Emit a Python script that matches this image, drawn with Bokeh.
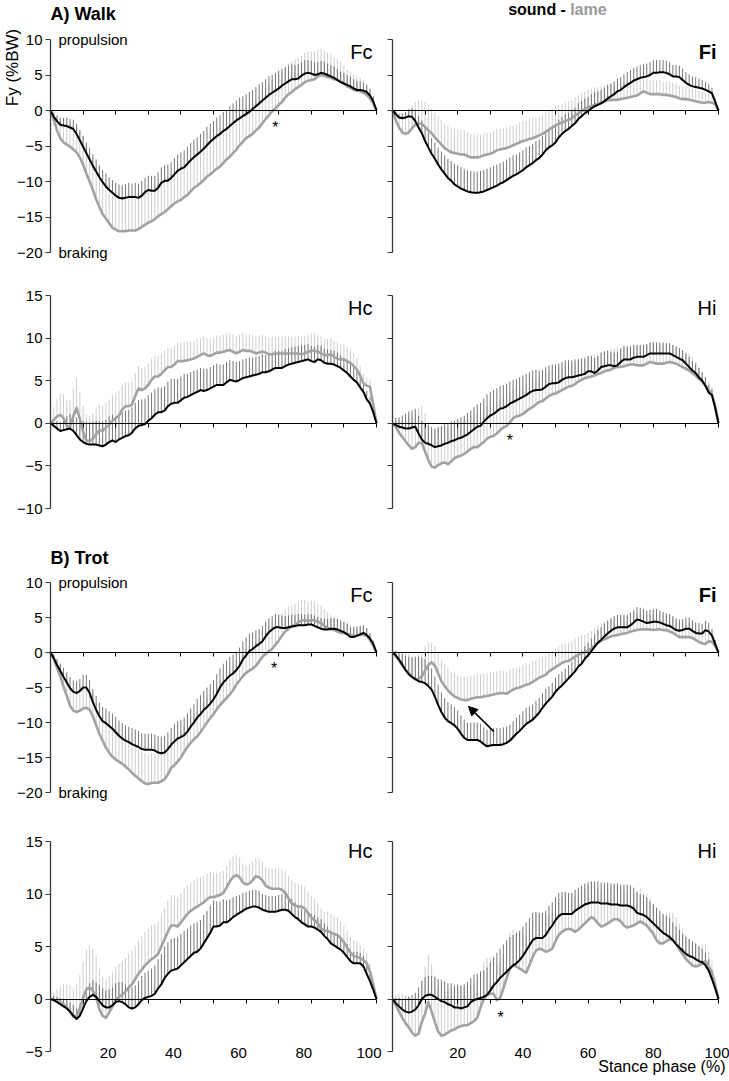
from math import pi
from bokeh.plotting import figure
from bokeh.models import Range1d, FixedTicker, Label, Arrow, NormalHead, LinearAxis
from bokeh.layouts import column, row
from bokeh.embed import file_html
from bokeh.resources import INLINE

# ---------------- data ----------------
stance = list(range(101))
x_tick_marks = [10, 20, 30, 40, 50, 60, 70, 80, 90, 100]
x_tick_labels = [20, 40, 60, 80, 100]
yticks_fore = [-20, -15, -10, -5, 0, 5, 10]
yticks_hind_walk = [-10, -5, 0, 5, 10, 15]
yticks_hind_trot = [-5, 0, 5, 10, 15]

walk_fc_sound = [0, -0.9, -1.5, -2.0, -2.1, -2.2, -2.4, -2.6, -3.3, -4.2,
 -5.1, -6.0, -6.9, -7.8, -8.6, -9.4, -10.1, -10.7, -11.2, -11.6,
 -12.0, -12.3, -12.4, -12.3, -12.2, -12.2, -12.2, -12.3, -12.0, -11.5,
 -11.2, -11.3, -11.3, -10.9, -10.2, -9.9, -9.9, -9.5, -9.0, -8.5,
 -8.2, -8.0, -7.5, -7.0, -6.6, -6.2, -5.8, -5.4, -4.9, -4.4,
 -4.0, -3.6, -3.3, -2.9, -2.6, -2.2, -1.8, -1.4, -1.1, -0.8,
 -0.5, -0.2, 0.2, 0.6, 1.0, 1.4, 1.8, 2.2, 2.5, 2.8,
 3.1, 3.5, 3.8, 4.1, 4.4, 4.4, 4.5, 4.9, 5.2, 5.3,
 5.2, 5.0, 5.1, 5.3, 5.2, 5.0, 4.8, 4.6, 4.3, 4.0,
 3.8, 3.6, 3.4, 3.1, 2.9, 2.9, 2.8, 2.6, 2.1, 1.3, 0]
walk_fc_sound_sd = [0.4, 0.6, 0.8, 1.0, 1.1, 1.2, 1.2, 1.3, 1.4, 1.4,
 1.5, 1.5, 1.6, 1.6, 1.7, 1.7, 1.7, 1.8, 1.8, 1.8,
 1.8, 1.9, 1.9, 1.9, 2.0, 1.9, 2.0, 2.0, 2.1, 2.0,
 2.0, 2.1, 2.1, 2.2, 2.2, 2.2, 2.3, 2.2, 2.3, 2.3,
 2.3, 2.4, 2.4, 2.4, 2.5, 2.4, 2.5, 2.5, 2.6, 2.5,
 2.5, 2.6, 2.6, 2.7, 2.7, 2.8, 2.8, 2.8, 2.9, 2.8,
 2.8, 2.8, 2.7, 2.7, 2.7, 2.6, 2.6, 2.6, 2.5, 2.5,
 2.5, 2.4, 2.3, 2.2, 2.1, 2.0, 2.0, 1.9, 1.9, 1.8,
 1.8, 1.8, 1.7, 1.7, 1.7, 1.6, 1.6, 1.6, 1.5, 1.5,
 1.5, 1.4, 1.4, 1.3, 1.3, 1.2, 1.1, 1.0, 0.9, 0.7, 0.5]
walk_fc_lame = [0, -1.3, -2.8, -3.9, -4.5, -4.8, -5.1, -5.5, -5.9, -6.6,
 -7.6, -8.9, -10.0, -11.2, -12.5, -13.6, -14.6, -15.2, -15.9, -16.5,
 -16.8, -17.0, -17.0, -17.0, -16.9, -16.9, -16.9, -16.7, -16.4, -16.1,
 -15.8, -15.6, -15.3, -14.9, -14.6, -14.3, -13.9, -13.5, -13.1, -12.8,
 -12.6, -12.2, -11.9, -11.4, -10.9, -10.6, -10.2, -9.8, -9.3, -9.0,
 -8.6, -8.2, -7.9, -7.4, -6.9, -6.5, -6.0, -5.5, -4.9, -4.4,
 -3.9, -3.6, -3.3, -2.8, -2.4, -1.8, -1.2, -0.7, -0.1, 0.3,
 0.8, 1.2, 1.8, 2.3, 2.6, 3.0, 3.3, 3.6, 4.0, 4.2,
 4.3, 4.4, 4.8, 5.0, 4.9, 4.7, 4.6, 4.4, 4.3, 4.1,
 3.8, 3.4, 3.2, 2.9, 2.8, 2.7, 2.5, 2.2, 1.7, 1.0, 0]
walk_fc_lame_sd = [0.4, 1.2, 2.0, 2.4, 2.7, 3.0, 3.2, 3.4, 3.6, 3.8,
 4.0, 4.0, 4.1, 4.2, 4.2, 4.3, 4.3, 4.4, 4.4, 4.5,
 4.5, 4.5, 4.6, 4.5, 4.5, 4.6, 4.5, 4.5, 4.5, 4.6,
 4.5, 4.5, 4.5, 4.6, 4.5, 4.5, 4.5, 4.5, 4.6, 4.5,
 4.5, 4.5, 4.5, 4.5, 4.6, 4.5, 4.5, 4.5, 4.5, 4.5,
 4.5, 4.5, 4.6, 4.5, 4.5, 4.5, 4.5, 4.5, 4.5, 4.5,
 4.5, 4.5, 4.4, 4.4, 4.4, 4.4, 4.4, 4.3, 4.3, 4.3,
 4.3, 4.3, 4.3, 4.3, 4.2, 4.2, 4.2, 4.1, 4.1, 4.1,
 4.0, 3.9, 3.8, 3.7, 3.6, 3.5, 3.3, 3.1, 2.9, 2.7,
 2.5, 2.4, 2.3, 2.2, 2.1, 2.0, 1.8, 1.6, 1.4, 1.0, 0.2]

walk_fi_sound = [0, -0.5, -1.0, -1.1, -1.0, -0.8, -0.9, -1.5, -2.4, -3.2,
 -4.3, -5.2, -6.1, -6.8, -7.6, -8.3, -8.9, -9.5, -9.9, -10.4,
 -10.7, -11.0, -11.2, -11.4, -11.5, -11.6, -11.6, -11.5, -11.4, -11.2,
 -11.0, -10.8, -10.6, -10.3, -10.1, -9.8, -9.5, -9.2, -9.0, -8.7,
 -8.4, -8.0, -7.7, -7.4, -7.0, -6.7, -6.2, -5.6, -5.2, -4.9,
 -4.5, -3.8, -3.3, -2.9, -2.6, -2.2, -1.8, -1.2, -0.8, -0.4,
 -0.1, 0.3, 0.6, 0.8, 1.0, 1.3, 1.7, 2.0, 2.3, 2.7,
 2.9, 3.3, 3.6, 3.9, 4.2, 4.4, 4.6, 4.7, 4.8, 5.0,
 5.3, 5.3, 5.4, 5.4, 5.3, 5.1, 4.8, 4.8, 4.7, 4.3,
 3.9, 3.6, 3.4, 3.3, 3.2, 3.1, 2.9, 2.7, 2.4, 1.2, 0]
walk_fi_sound_sd = [0.3, 0.4, 0.5, 0.7, 0.8, 1.0, 1.2, 1.4, 1.6, 1.8,
 2.0, 2.1, 2.2, 2.3, 2.4, 2.5, 2.6, 2.7, 2.8, 2.9,
 3.0, 3.0, 3.0, 3.0, 3.0, 3.0, 3.0, 3.0, 3.0, 3.0,
 3.0, 3.0, 3.0, 2.9, 2.9, 2.9, 2.9, 2.9, 2.8, 2.8,
 2.8, 2.8, 2.7, 2.7, 2.7, 2.6, 2.6, 2.6, 2.5, 2.5,
 2.5, 2.5, 2.4, 2.4, 2.3, 2.3, 2.2, 2.2, 2.1, 2.1,
 2.0, 2.0, 2.0, 1.9, 1.9, 1.9, 1.9, 1.8, 1.8, 1.8,
 1.8, 1.8, 1.8, 1.8, 1.8, 1.8, 1.8, 1.8, 1.8, 1.8,
 1.8, 1.8, 1.7, 1.7, 1.7, 1.7, 1.6, 1.6, 1.6, 1.6,
 1.5, 1.5, 1.4, 1.4, 1.3, 1.2, 1.1, 1.0, 0.8, 0.5, 0.2]
walk_fi_lame = [0, -1.4, -2.4, -3.1, -3.3, -3.1, -2.5, -2.0, -1.8, -1.9,
 -2.3, -2.8, -3.2, -3.8, -4.3, -4.8, -5.3, -5.6, -5.9, -6.0,
 -6.1, -6.2, -6.2, -6.4, -6.6, -6.6, -6.6, -6.5, -6.3, -6.2,
 -6.1, -5.9, -5.6, -5.5, -5.4, -5.3, -5.1, -4.9, -4.7, -4.5,
 -4.3, -4.2, -4.0, -3.9, -3.7, -3.5, -3.3, -3.0, -2.7, -2.4,
 -2.1, -1.9, -1.7, -1.5, -1.3, -1.1, -0.7, -0.4, -0.1, 0.2,
 0.5, 0.6, 0.8, 0.9, 1.1, 1.3, 1.4, 1.5, 1.5, 1.5,
 1.6, 1.7, 1.8, 1.9, 2.0, 2.1, 2.4, 2.7, 2.5, 2.3,
 2.3, 2.3, 2.3, 2.2, 2.2, 2.1, 2.0, 1.9, 1.7, 1.6,
 1.6, 1.5, 1.4, 1.3, 1.2, 1.1, 1.1, 1.2, 1.1, 0.9, 0]
walk_fi_lame_sd = [0.3, 1.2, 2.0, 2.5, 2.8, 3.0, 3.1, 3.2, 3.3, 3.4,
 3.5, 3.5, 3.5, 3.5, 3.5, 3.5, 3.5, 3.5, 3.5, 3.5,
 3.5, 3.4, 3.4, 3.3, 3.3, 3.2, 3.2, 3.1, 3.1, 3.0,
 3.0, 3.0, 3.0, 2.9, 2.9, 2.9, 2.9, 2.8, 2.8, 2.8,
 2.8, 2.8, 2.8, 2.8, 2.7, 2.7, 2.7, 2.7, 2.7, 2.7,
 2.7, 2.7, 2.6, 2.6, 2.6, 2.6, 2.6, 2.5, 2.5, 2.5,
 2.5, 2.5, 2.4, 2.4, 2.4, 2.3, 2.3, 2.3, 2.2, 2.2,
 2.2, 2.2, 2.1, 2.1, 2.1, 2.1, 2.0, 2.0, 2.0, 2.0,
 2.0, 2.0, 2.0, 1.9, 1.9, 1.9, 1.9, 1.9, 1.8, 1.8,
 1.8, 1.8, 1.7, 1.7, 1.6, 1.5, 1.4, 1.2, 1.0, 0.6, 0.1]

walk_hc_sound = [0, -0.3, -0.6, -0.9, -0.8, -0.7, -0.6, -0.9, -1.4, -1.9,
 -2.2, -2.4, -2.5, -2.5, -2.5, -2.6, -2.7, -2.5, -2.2, -2.0,
 -2.2, -1.9, -1.7, -1.5, -1.4, -1.1, -0.6, -0.3, -0.2, -0.1,
 0.3, 0.6, 1.0, 1.3, 1.3, 1.5, 2.0, 2.3, 2.4, 2.4,
 2.7, 3.0, 3.1, 3.3, 3.5, 3.7, 3.9, 3.8, 3.9, 4.1,
 4.3, 4.5, 4.5, 4.5, 4.8, 5.1, 5.0, 4.9, 5.1, 5.3,
 5.4, 5.5, 5.6, 5.7, 5.8, 6.0, 6.0, 6.1, 6.3, 6.5,
 6.5, 6.5, 6.7, 6.9, 7.0, 7.1, 7.2, 7.3, 7.4, 7.5,
 7.3, 7.2, 7.5, 7.4, 7.1, 7.0, 7.0, 6.9, 6.7, 6.5,
 6.2, 5.9, 5.5, 5.1, 4.8, 4.2, 3.7, 2.8, 2.3, 1.3, 0]
walk_hc_sound_sd = [0.5, 0.7, 0.9, 1.1, 1.3, 1.5, 1.7, 1.9, 2.1, 2.3,
 2.5, 2.6, 2.6, 2.7, 2.8, 2.8, 2.9, 2.9, 3.0, 3.0,
 3.0, 3.0, 3.0, 3.0, 3.0, 3.0, 3.0, 3.0, 3.0, 3.0,
 3.0, 3.0, 3.0, 2.9, 2.9, 2.9, 2.9, 2.9, 2.8, 2.8,
 2.8, 2.8, 2.7, 2.7, 2.7, 2.6, 2.6, 2.6, 2.5, 2.5,
 2.5, 2.5, 2.4, 2.4, 2.4, 2.3, 2.3, 2.3, 2.2, 2.2,
 2.2, 2.2, 2.1, 2.1, 2.1, 2.1, 2.0, 2.0, 2.0, 2.0,
 2.0, 2.0, 2.0, 1.9, 1.9, 1.9, 1.9, 1.9, 1.8, 1.8,
 1.8, 1.8, 1.7, 1.7, 1.7, 1.7, 1.6, 1.6, 1.6, 1.5,
 1.5, 1.5, 1.4, 1.4, 1.3, 1.2, 1.1, 1.0, 0.8, 0.5, 0.3]
walk_hc_lame = [0, 0.4, 0.8, 1.0, 0.6, -0.3, -0.4, 0.8, 1.8, 0.5,
 -1.0, -2.0, -2.1, -1.8, -1.3, -0.8, -0.9, -0.5, -0.2, 0.3,
 0.6, 0.9, 1.6, 2.0, 2.0, 2.2, 3.2, 4.1, 3.9, 4.1,
 4.5, 5.1, 5.5, 5.5, 5.8, 6.2, 6.6, 6.6, 6.9, 7.3,
 7.3, 7.3, 7.4, 7.5, 7.6, 7.8, 8.0, 8.2, 8.0, 7.9,
 8.1, 8.3, 8.3, 8.4, 8.5, 8.6, 8.4, 8.2, 8.4, 8.6,
 8.5, 8.5, 8.4, 8.2, 8.3, 8.4, 8.3, 8.1, 8.1, 8.2,
 8.2, 8.2, 8.2, 8.2, 8.2, 8.2, 8.2, 8.1, 8.2, 8.4,
 8.5, 8.5, 8.4, 8.2, 8.0, 8.0, 8.1, 7.8, 7.6, 7.5,
 7.5, 7.3, 7.1, 6.7, 6.3, 5.6, 4.7, 4.4, 4.3, 2.2, 0]
walk_hc_lame_sd = [0.5, 1.5, 2.0, 2.5, 2.8, 3.0, 3.2, 3.4, 3.5, 3.2,
 3.0, 3.0, 3.0, 3.0, 3.0, 3.0, 3.0, 3.0, 3.0, 3.0,
 3.0, 2.9, 2.9, 2.8, 2.8, 2.7, 2.7, 2.6, 2.6, 2.5,
 2.5, 2.5, 2.4, 2.4, 2.4, 2.3, 2.3, 2.3, 2.2, 2.2,
 2.2, 2.2, 2.1, 2.1, 2.1, 2.1, 2.0, 2.0, 2.0, 2.0,
 2.0, 2.0, 2.0, 2.0, 2.0, 2.0, 2.0, 2.0, 2.0, 2.0,
 2.0, 2.0, 2.0, 2.0, 2.0, 2.0, 2.0, 2.0, 2.0, 2.0,
 2.0, 2.0, 2.0, 2.0, 2.0, 2.0, 2.0, 2.0, 2.0, 2.0,
 2.0, 2.0, 2.0, 2.0, 1.9, 1.9, 1.9, 1.9, 1.9, 1.8,
 1.8, 1.7, 1.6, 1.5, 1.4, 1.2, 1.1, 1.0, 0.8, 0.5, 0.3]

walk_hi_sound = [0, -0.2, -0.4, -0.5, -0.6, -0.6, -0.5, -0.4, -1.2, -1.9,
 -2.3, -2.4, -2.6, -2.8, -2.7, -2.6, -2.4, -2.3, -2.1, -2.0,
 -1.8, -1.7, -1.5, -1.3, -1.0, -0.7, -0.4, -0.3, 0.2, 0.6,
 0.9, 1.1, 1.4, 1.7, 1.8, 2.0, 2.3, 2.5, 2.7, 2.9,
 3.1, 3.3, 3.6, 3.8, 3.9, 3.9, 4.0, 4.3, 4.6, 4.7,
 4.7, 4.8, 5.1, 5.3, 5.4, 5.4, 5.5, 5.6, 5.7, 5.8,
 6.1, 6.1, 5.9, 6.2, 6.6, 6.7, 6.8, 6.8, 6.7, 6.8,
 7.2, 7.5, 7.5, 7.5, 7.7, 7.8, 7.8, 7.8, 8.0, 8.2,
 8.2, 8.2, 8.2, 8.2, 8.2, 8.2, 8.0, 7.8, 7.6, 7.4,
 7.0, 6.6, 6.2, 5.9, 5.4, 5.0, 4.4, 3.6, 3.3, 1.8, 0]
walk_hi_sound_sd = [0.5, 0.8, 1.1, 1.4, 1.7, 2.0, 2.0, 2.1, 2.1, 2.2,
 2.2, 2.2, 2.2, 2.2, 2.3, 2.3, 2.3, 2.3, 2.3, 2.3,
 2.3, 2.4, 2.4, 2.5, 2.5, 2.6, 2.6, 2.7, 2.7, 2.8,
 2.8, 2.8, 2.7, 2.7, 2.7, 2.6, 2.6, 2.6, 2.5, 2.5,
 2.5, 2.5, 2.4, 2.4, 2.4, 2.3, 2.3, 2.3, 2.2, 2.2,
 2.2, 2.2, 2.1, 2.1, 2.0, 2.0, 2.0, 1.9, 1.9, 1.8,
 1.8, 1.8, 1.8, 1.7, 1.7, 1.7, 1.7, 1.6, 1.6, 1.6,
 1.6, 1.6, 1.5, 1.5, 1.5, 1.4, 1.4, 1.4, 1.3, 1.3,
 1.3, 1.3, 1.3, 1.3, 1.2, 1.2, 1.2, 1.2, 1.2, 1.2,
 1.2, 1.2, 1.1, 1.1, 1.1, 1.0, 1.0, 0.9, 0.7, 0.5, 0.2]
walk_hi_lame = [0, -0.4, -1.1, -1.6, -2.1, -2.6, -3.0, -2.8, -2.3, -2.3,
 -3.3, -4.3, -5.1, -5.2, -4.9, -4.7, -4.6, -4.8, -4.5, -4.1,
 -3.9, -3.8, -3.6, -3.3, -3.0, -2.8, -2.8, -2.5, -2.2, -1.8,
 -1.6, -1.5, -1.2, -0.8, -0.5, -0.3, 0.1, 0.6, 0.8, 0.9,
 1.1, 1.4, 1.7, 1.9, 2.2, 2.5, 2.6, 2.9, 3.2, 3.4,
 3.5, 3.7, 3.9, 4.1, 4.3, 4.4, 4.6, 4.9, 5.1, 5.3,
 5.4, 5.5, 5.6, 5.8, 5.9, 6.1, 6.2, 6.3, 6.5, 6.6,
 6.6, 6.7, 6.8, 6.9, 6.9, 6.8, 6.8, 6.8, 7.0, 7.2,
 7.1, 7.0, 7.0, 7.0, 7.1, 7.2, 7.1, 7.0, 6.8, 6.6,
 6.4, 6.2, 5.9, 5.6, 5.2, 4.9, 4.4, 3.9, 3.4, 2.0, 0]
walk_hi_lame_sd = [0.5, 1.0, 1.5, 2.0, 2.8, 3.5, 3.7, 3.9, 4.1, 4.3,
 4.5, 4.5, 4.4, 4.4, 4.3, 4.2, 4.2, 4.1, 4.1, 4.0,
 4.0, 4.0, 4.0, 4.0, 3.9, 3.9, 3.9, 3.9, 3.8, 3.8,
 3.8, 3.7, 3.7, 3.6, 3.5, 3.5, 3.4, 3.4, 3.3, 3.3,
 3.2, 3.2, 3.1, 3.1, 3.0, 3.0, 3.0, 2.9, 2.9, 2.8,
 2.8, 2.8, 2.7, 2.7, 2.7, 2.6, 2.6, 2.6, 2.5, 2.5,
 2.5, 2.5, 2.5, 2.4, 2.4, 2.4, 2.4, 2.4, 2.3, 2.3,
 2.3, 2.3, 2.3, 2.3, 2.3, 2.3, 2.3, 2.3, 2.3, 2.3,
 2.3, 2.3, 2.2, 2.2, 2.2, 2.2, 2.1, 2.1, 2.1, 2.0,
 2.0, 1.9, 1.8, 1.6, 1.4, 1.2, 1.1, 1.0, 0.8, 0.5, 0.2]

trot_fc_sound = [0, -0.8, -1.8, -2.6, -3.5, -4.3, -5.1, -5.6, -5.8, -5.5,
 -5.0, -5.0, -5.8, -7.1, -8.2, -9.1, -9.8, -10.1, -10.5, -10.9,
 -11.4, -11.9, -12.3, -12.6, -12.8, -13.1, -13.3, -13.5, -13.8, -13.9,
 -13.9, -13.9, -14.0, -14.3, -14.4, -14.3, -13.8, -13.2, -12.7, -12.3,
 -12.1, -11.8, -11.3, -10.6, -10.0, -9.3, -8.8, -8.2, -7.8, -7.3,
 -6.7, -5.9, -5.0, -4.3, -3.8, -3.3, -3.0, -2.5, -1.9, -1.0,
 -0.4, 0.2, 0.5, 0.9, 1.2, 1.6, 2.3, 2.9, 3.3, 3.6,
 3.6, 3.5, 3.5, 3.6, 3.7, 3.8, 3.9, 3.9, 3.9, 4.0,
 4.0, 3.8, 3.6, 3.4, 3.3, 3.3, 3.4, 3.4, 3.3, 3.1,
 2.9, 2.6, 2.2, 2.2, 2.4, 2.6, 2.8, 2.5, 2.0, 1.2, 0]
trot_fc_sound_sd = [0.3, 0.5, 0.8, 1.0, 1.3, 1.5, 1.6, 1.6, 1.7, 1.7,
 1.8, 1.8, 1.9, 1.9, 2.0, 2.0, 2.0, 2.1, 2.1, 2.2,
 2.2, 2.2, 2.2, 2.2, 2.2, 2.3, 2.3, 2.3, 2.3, 2.3,
 2.3, 2.3, 2.3, 2.4, 2.4, 2.4, 2.4, 2.4, 2.5, 2.5,
 2.5, 2.5, 2.6, 2.6, 2.6, 2.7, 2.7, 2.7, 2.8, 2.8,
 2.8, 2.8, 2.8, 2.7, 2.7, 2.7, 2.7, 2.6, 2.6, 2.6,
 2.5, 2.5, 2.4, 2.3, 2.2, 2.2, 2.1, 2.0, 1.9, 1.9,
 1.8, 1.8, 1.7, 1.7, 1.7, 1.6, 1.6, 1.6, 1.5, 1.5,
 1.5, 1.5, 1.5, 1.5, 1.5, 1.5, 1.5, 1.5, 1.5, 1.5,
 1.5, 1.5, 1.4, 1.4, 1.3, 1.2, 1.1, 1.0, 0.8, 0.5, 0.3]
trot_fc_lame = [0, -0.9, -2.2, -3.4, -4.9, -6.2, -7.6, -8.3, -8.5, -8.3,
 -8.0, -7.9, -8.2, -9.1, -10.4, -11.6, -12.6, -13.6, -14.3, -14.9,
 -15.3, -15.6, -15.9, -16.3, -16.7, -17.2, -17.6, -18.0, -18.4, -18.7,
 -18.8, -18.6, -18.6, -18.6, -18.4, -18.1, -17.4, -16.5, -16.1, -15.6,
 -15.0, -14.2, -13.5, -12.9, -12.4, -12.0, -11.4, -10.7, -10.0, -9.4,
 -8.8, -8.1, -7.5, -7.0, -6.5, -6.0, -5.4, -4.6, -4.0, -3.4,
 -2.9, -2.6, -2.3, -1.9, -1.3, -0.6, -0.2, 0.2, 0.5, 1.1,
 1.7, 2.4, 3.0, 3.4, 3.7, 4.0, 4.3, 4.6, 4.6, 4.5,
 4.6, 4.6, 4.4, 4.2, 3.8, 3.5, 3.3, 3.2, 3.0, 2.8,
 2.8, 2.7, 2.5, 2.4, 2.4, 2.5, 2.5, 2.4, 1.8, 1.0, 0]
trot_fc_lame_sd = [0.3, 0.8, 1.3, 1.8, 2.2, 2.5, 2.6, 2.7, 2.8, 2.9,
 3.0, 3.1, 3.2, 3.2, 3.3, 3.4, 3.5, 3.6, 3.6, 3.7,
 3.8, 3.8, 3.9, 3.9, 4.0, 4.0, 4.1, 4.1, 4.2, 4.2,
 4.2, 4.2, 4.1, 4.1, 4.0, 4.0, 4.0, 3.9, 3.9, 3.8,
 3.8, 3.8, 3.7, 3.7, 3.7, 3.6, 3.6, 3.6, 3.5, 3.5,
 3.5, 3.5, 3.5, 3.5, 3.5, 3.5, 3.5, 3.5, 3.5, 3.5,
 3.5, 3.5, 3.5, 3.5, 3.5, 3.5, 3.4, 3.4, 3.3, 3.3,
 3.2, 3.2, 3.1, 3.1, 3.0, 3.0, 3.0, 2.9, 2.9, 2.8,
 2.8, 2.7, 2.6, 2.5, 2.4, 2.3, 2.1, 2.0, 1.8, 1.7,
 1.5, 1.5, 1.4, 1.4, 1.3, 1.2, 1.1, 1.0, 0.8, 0.5, 0.2]

trot_fi_sound = [0, -0.4, -1.0, -1.7, -2.5, -3.1, -3.5, -3.8, -4.1, -4.2,
 -4.4, -4.8, -5.3, -6.3, -7.5, -8.5, -9.3, -9.8, -10.1, -10.4,
 -10.9, -11.6, -12.2, -12.5, -12.5, -12.5, -12.5, -12.7, -13.1, -13.4,
 -13.3, -13.2, -13.2, -13.2, -13.1, -12.9, -12.6, -12.1, -11.6, -11.2,
 -10.7, -10.2, -9.9, -9.6, -9.1, -8.6, -7.9, -7.3, -6.8, -6.3,
 -5.6, -5.1, -4.7, -4.2, -3.7, -3.2, -2.7, -2.0, -1.6, -0.9,
 -0.4, 0.2, 0.8, 1.4, 1.8, 2.3, 2.7, 3.1, 3.4, 3.6,
 3.6, 3.6, 3.6, 3.9, 4.3, 4.7, 4.6, 4.4, 4.2, 4.3,
 4.4, 4.4, 4.3, 4.1, 3.9, 3.8, 3.5, 3.2, 3.1, 3.2,
 3.4, 3.4, 3.1, 2.8, 2.7, 2.7, 3.2, 3.0, 2.4, 1.2, 0]
trot_fi_sound_sd = [0.2, 0.6, 1.0, 1.5, 2.0, 2.5, 2.8, 3.1, 3.5, 3.5,
 3.5, 3.3, 3.0, 2.9, 2.9, 2.8, 2.8, 2.7, 2.7, 2.6,
 2.6, 2.6, 2.6, 2.5, 2.5, 2.5, 2.5, 2.5, 2.4, 2.4,
 2.4, 2.4, 2.4, 2.4, 2.4, 2.3, 2.3, 2.3, 2.3, 2.3,
 2.3, 2.3, 2.2, 2.2, 2.2, 2.1, 2.1, 2.1, 2.0, 2.0,
 2.0, 2.0, 2.0, 1.9, 1.9, 1.9, 1.9, 1.9, 1.8, 1.8,
 1.8, 1.8, 1.8, 1.8, 1.8, 1.8, 1.8, 1.8, 1.8, 1.8,
 1.8, 1.8, 1.8, 1.8, 1.8, 1.8, 1.8, 1.8, 1.8, 1.8,
 1.8, 1.8, 1.7, 1.7, 1.7, 1.7, 1.7, 1.7, 1.6, 1.6,
 1.6, 1.6, 1.5, 1.5, 1.5, 1.4, 1.3, 1.2, 1.0, 0.6, 0.2]
trot_fi_lame = [0, -0.5, -1.2, -1.9, -2.5, -3.0, -3.5, -3.8, -3.8, -3.4,
 -2.6, -1.8, -1.4, -1.9, -3.0, -4.1, -4.8, -5.4, -5.9, -6.3,
 -6.5, -6.7, -6.8, -6.8, -6.6, -6.5, -6.4, -6.4, -6.3, -6.2,
 -6.1, -6.0, -5.9, -5.8, -5.8, -5.9, -5.6, -5.3, -5.1, -5.0,
 -4.8, -4.6, -4.5, -4.2, -3.9, -3.6, -3.4, -3.2, -2.7, -2.4,
 -2.1, -1.8, -1.5, -1.3, -1.2, -0.9, -0.6, -0.3, -0.1, 0.0,
 0.3, 0.6, 1.0, 1.4, 1.7, 1.9, 2.1, 2.3, 2.4, 2.5,
 2.6, 2.7, 2.8, 3.0, 3.1, 3.2, 3.3, 3.3, 3.3, 3.3,
 3.2, 3.3, 3.3, 3.2, 3.2, 3.0, 2.8, 2.5, 2.2, 2.2,
 2.2, 2.2, 2.1, 1.8, 1.5, 1.3, 1.2, 1.6, 1.5, 0.9, 0]
trot_fi_lame_sd = [0.2, 0.8, 1.4, 2.0, 2.4, 2.8, 3.0, 3.3, 3.5, 3.5,
 3.5, 3.2, 2.8, 2.8, 2.9, 3.0, 3.1, 3.2, 3.2, 3.3,
 3.3, 3.3, 3.3, 3.3, 3.3, 3.3, 3.3, 3.3, 3.3, 3.3,
 3.3, 3.3, 3.2, 3.2, 3.2, 3.1, 3.1, 3.1, 3.0, 3.0,
 3.0, 3.0, 2.9, 2.9, 2.9, 2.8, 2.8, 2.8, 2.7, 2.7,
 2.7, 2.7, 2.7, 2.6, 2.6, 2.6, 2.6, 2.5, 2.5, 2.5,
 2.5, 2.5, 2.5, 2.5, 2.5, 2.5, 2.5, 2.5, 2.5, 2.5,
 2.5, 2.5, 2.4, 2.4, 2.4, 2.3, 2.3, 2.3, 2.2, 2.2,
 2.2, 2.2, 2.2, 2.1, 2.1, 2.1, 2.1, 2.1, 2.0, 2.0,
 2.0, 2.0, 2.0, 1.9, 1.9, 1.8, 1.7, 1.5, 1.2, 0.7, 0.2]

trot_hc_sound = [0, -0.1, -0.3, -0.5, -0.7, -0.9, -1.2, -1.6, -1.9, -1.6,
 -0.9, -0.2, 0.2, 0.4, 0.2, -0.2, -0.6, -0.8, -0.8, -0.6,
 -0.3, -0.2, -0.3, -0.5, -0.8, -0.9, -0.8, -0.5, -0.1, 0.1,
 0.2, 0.3, 0.5, 1.0, 1.4, 2.0, 2.4, 2.7, 2.8, 2.9,
 3.2, 3.5, 3.8, 4.1, 4.4, 4.5, 4.8, 5.3, 5.8, 6.3,
 6.9, 6.9, 7.0, 7.3, 7.3, 7.5, 7.8, 8.0, 8.2, 8.4,
 8.6, 8.7, 8.8, 8.8, 8.7, 8.5, 8.4, 8.3, 8.3, 8.3,
 8.4, 8.5, 8.5, 8.4, 8.1, 7.8, 7.6, 7.3, 7.1, 6.9,
 6.9, 6.8, 6.6, 6.4, 6.0, 5.7, 5.3, 5.1, 4.9, 4.7,
 4.4, 4.0, 3.6, 3.4, 3.4, 3.4, 3.1, 2.4, 1.7, 0.9, 0]
trot_hc_sound_sd = [0.3, 0.4, 0.5, 0.6, 0.7, 0.8, 0.9, 1.0, 1.0, 1.1,
 1.2, 1.3, 1.3, 1.4, 1.4, 1.5, 1.6, 1.6, 1.7, 1.7,
 1.8, 1.8, 1.9, 1.9, 2.0, 2.0, 2.1, 2.2, 2.3, 2.4,
 2.5, 2.6, 2.7, 2.8, 2.9, 3.0, 3.0, 3.0, 3.0, 3.0,
 3.0, 3.0, 2.9, 2.9, 2.8, 2.8, 2.7, 2.7, 2.6, 2.6,
 2.5, 2.4, 2.3, 2.2, 2.1, 2.0, 1.9, 1.8, 1.7, 1.7,
 1.6, 1.6, 1.6, 1.6, 1.6, 1.5, 1.5, 1.5, 1.5, 1.5,
 1.5, 1.5, 1.5, 1.4, 1.4, 1.4, 1.3, 1.3, 1.3, 1.2,
 1.2, 1.2, 1.2, 1.2, 1.2, 1.2, 1.2, 1.2, 1.2, 1.2,
 1.2, 1.2, 1.1, 1.1, 1.1, 1.0, 1.0, 0.9, 0.7, 0.5, 0.3]
trot_hc_lame = [0, -0.1, -0.2, -0.3, -0.5, -0.8, -1.2, -1.7, -1.6, -0.9,
 0.1, 0.9, 1.1, 0.8, 0.2, -1.0, -1.6, -1.8, -1.3, -0.7,
 -0.1, 0.2, 0.4, 0.7, 1.1, 1.4, 1.9, 2.4, 2.8, 3.2,
 3.5, 3.8, 4.0, 4.3, 5.0, 5.7, 6.4, 7.0, 7.0, 6.9,
 7.3, 7.7, 8.1, 8.4, 8.6, 8.8, 9.0, 9.2, 9.5, 9.7,
 9.7, 9.8, 9.9, 10.1, 10.6, 11.2, 11.6, 11.8, 11.6, 11.1,
 10.9, 11.0, 11.3, 11.7, 11.6, 11.3, 10.8, 10.6, 10.5, 10.5,
 10.5, 10.4, 10.1, 9.6, 9.1, 8.9, 8.8, 8.8, 8.6, 8.2,
 7.8, 7.5, 7.2, 6.7, 6.5, 6.5, 6.3, 6.2, 6.1, 5.8,
 5.4, 4.9, 4.4, 4.1, 4.0, 3.9, 3.7, 3.4, 2.6, 1.4, 0]
trot_hc_lame_sd = [0.3, 0.7, 1.1, 1.5, 1.9, 2.2, 2.5, 2.7, 3.0, 3.2,
 3.5, 3.8, 4.0, 4.0, 3.9, 3.8, 3.7, 3.6, 3.5, 3.3,
 3.2, 3.2, 3.2, 3.2, 3.2, 3.2, 3.2, 3.2, 3.2, 3.2,
 3.2, 3.2, 3.1, 3.1, 3.0, 3.0, 3.0, 2.9, 2.9, 2.8,
 2.8, 2.8, 2.8, 2.7, 2.7, 2.7, 2.6, 2.5, 2.4, 2.4,
 2.3, 2.2, 2.2, 2.1, 2.1, 2.0, 2.0, 1.9, 1.9, 1.8,
 1.8, 1.8, 1.8, 1.8, 1.8, 1.8, 1.8, 1.9, 1.9, 2.0,
 2.0, 2.0, 2.1, 2.1, 2.2, 2.2, 2.2, 2.1, 2.1, 2.0,
 2.0, 2.0, 1.9, 1.9, 1.8, 1.8, 1.8, 1.7, 1.7, 1.6,
 1.6, 1.6, 1.5, 1.5, 1.4, 1.2, 1.1, 1.0, 0.8, 0.5, 0.3]

trot_hi_sound = [0, -0.4, -0.7, -1.0, -1.2, -1.3, -1.2, -1.0, -0.6, 0.0,
 0.3, 0.4, 0.4, 0.2, 0.0, -0.2, -0.3, -0.5, -0.6, -0.8,
 -0.8, -0.9, -0.8, -0.7, -0.3, -0.1, 0.0, 0.1, 0.2, 0.4,
 0.8, 1.3, 1.6, 2.0, 2.3, 2.6, 2.9, 3.2, 3.4, 3.7,
 4.1, 4.6, 5.1, 5.6, 5.8, 5.8, 5.8, 6.1, 6.6, 7.0,
 7.5, 7.9, 8.1, 8.1, 8.1, 8.1, 8.4, 8.6, 8.8, 9.0,
 9.1, 9.2, 9.2, 9.2, 9.1, 9.1, 9.1, 9.0, 9.0, 9.0,
 8.9, 8.9, 8.9, 8.8, 8.6, 8.2, 8.1, 8.0, 7.8, 7.5,
 7.2, 6.9, 6.6, 6.3, 6.1, 5.9, 5.6, 5.2, 4.9, 4.6,
 4.3, 4.1, 4.0, 3.8, 3.6, 3.5, 3.2, 2.7, 1.9, 1.0, 0]
trot_hi_sound_sd = [0.3, 0.5, 0.8, 1.0, 1.3, 1.5, 1.6, 1.6, 1.7, 1.7,
 1.8, 1.8, 1.8, 1.9, 1.9, 2.0, 2.0, 2.0, 2.1, 2.1,
 2.2, 2.2, 2.2, 2.3, 2.3, 2.4, 2.4, 2.5, 2.5, 2.6,
 2.7, 2.7, 2.8, 2.8, 2.9, 3.0, 3.0, 2.9, 2.9, 2.8,
 2.8, 2.7, 2.6, 2.6, 2.5, 2.4, 2.4, 2.3, 2.3, 2.2,
 2.2, 2.2, 2.1, 2.1, 2.0, 2.0, 2.0, 2.0, 2.0, 2.0,
 2.0, 2.0, 2.0, 2.0, 2.0, 2.0, 2.0, 2.0, 2.0, 2.0,
 2.0, 2.0, 2.0, 2.0, 2.0, 2.0, 1.9, 1.9, 1.9, 1.8,
 1.8, 1.8, 1.8, 1.8, 1.8, 1.8, 1.7, 1.7, 1.7, 1.6,
 1.6, 1.6, 1.5, 1.5, 1.4, 1.3, 1.2, 1.1, 0.9, 0.6, 0.3]
trot_hi_lame = [0, -0.6, -1.2, -1.8, -2.3, -2.7, -3.2, -3.5, -3.3, -2.2,
 -1.4, -0.3, -1.2, -2.2, -3.1, -3.5, -3.4, -3.2, -3.0, -2.9,
 -2.7, -2.6, -2.5, -2.5, -2.3, -2.1, -1.8, -0.8, 0.0, 0.4,
 0.5, 0.5, -0.1, 0.1, 1.0, 2.0, 2.9, 3.2, 3.1, 2.9,
 2.7, 2.5, 3.2, 4.0, 4.6, 4.8, 4.7, 4.5, 4.6, 4.8,
 5.5, 6.1, 6.4, 6.6, 6.7, 6.6, 6.4, 6.6, 6.9, 7.2,
 7.5, 7.8, 7.6, 7.2, 6.9, 7.0, 7.2, 7.4, 7.6, 7.6,
 7.4, 7.0, 6.8, 6.9, 7.0, 7.2, 7.4, 7.2, 7.0, 6.6,
 6.2, 5.6, 5.3, 5.3, 5.5, 5.7, 5.6, 5.3, 4.7, 4.3,
 3.8, 3.5, 3.2, 3.1, 3.2, 3.4, 3.6, 3.1, 2.5, 1.3, 0]
trot_hi_lame_sd = [0.3, 1.0, 1.7, 2.3, 2.7, 3.0, 3.2, 3.3, 3.5, 4.0,
 4.5, 4.5, 4.5, 4.4, 4.3, 4.2, 4.1, 4.0, 3.9, 3.9,
 3.8, 3.8, 3.7, 3.7, 3.6, 3.6, 3.6, 3.5, 3.5, 3.5,
 3.5, 3.4, 3.4, 3.4, 3.3, 3.3, 3.4, 3.4, 3.4, 3.5,
 3.5, 3.5, 3.5, 3.5, 3.5, 3.5, 3.5, 3.5, 3.4, 3.4,
 3.4, 3.4, 3.4, 3.4, 3.4, 3.4, 3.4, 3.4, 3.4, 3.4,
 3.4, 3.4, 3.4, 3.4, 3.4, 3.4, 3.4, 3.4, 3.3, 3.3,
 3.3, 3.3, 3.2, 3.2, 3.2, 3.1, 3.1, 3.0, 3.0, 3.0,
 2.9, 2.9, 2.8, 2.8, 2.7, 2.6, 2.6, 2.5, 2.5, 2.4,
 2.3, 2.2, 2.1, 2.0, 1.9, 1.8, 1.6, 1.4, 1.1, 0.7, 0.3]

# ---------------- style / layout ----------------
FONT = "Liberation Sans"
SOUND_C = "#000000"
LAME_C = "#a2a2a2"
SOUND_SD_C = "#666666"
LAME_SD_C = "#cecece"
PX_PER_X = 3.26          # pixels per % stance
LEFT_W, LEFT_AX = 382, 50   # figure width, axis position (px from figure left)
RIGHT_W, RIGHT_AX = 347, 10


def lbl(p, text, x, y, dx=0, dy=0, size="15px", style="normal", color="black",
        align="left", baseline="middle", angle=0):
    p.add_layout(Label(x=x, y=y, x_offset=dx, y_offset=dy, text=text, angle=angle,
                       text_font=FONT, text_font_size=size, text_font_style=style,
                       text_color=color, text_align=align, text_baseline=baseline))


def panel(sound, sound_sd, lame, lame_sd, yticks, left, fig_h, top_px, bottom_px,
          bottom_labels=False):
    fig_w, ax_px = (LEFT_W, LEFT_AX) if left else (RIGHT_W, RIGHT_AX)
    x0 = -ax_px / PX_PER_X
    x1 = x0 + fig_w / PX_PER_X
    ky = (fig_h - top_px - bottom_px) / (yticks[-1] - yticks[0])
    y1 = yticks[-1] + top_px / ky
    y0 = yticks[0] - bottom_px / ky
    p = figure(frame_width=fig_w, frame_height=fig_h,
               x_range=Range1d(x0, x1), y_range=Range1d(y0, y1),
               x_axis_location=None, y_axis_location=None,
               toolbar_location=None, output_backend="svg",
               min_border_left=0, min_border_right=0, min_border_top=0, min_border_bottom=0)
    p.xgrid.visible = False
    p.ygrid.visible = False
    p.outline_line_color = None
    p.background_fill_color = "white"
    p.border_fill_color = "white"

    lame_top = [m + s for m, s in zip(lame, lame_sd)]
    sound_top = [m + s for m, s in zip(sound, sound_sd)]
    p.segment(x0=stance, y0=lame, x1=stance, y1=lame_top, line_color=LAME_SD_C, line_width=1)
    p.segment(x0=stance, y0=sound, x1=stance, y1=sound_top, line_color=SOUND_SD_C, line_width=0.9)
    p.line(stance, lame, line_color=LAME_C, line_width=2.6, line_join="round")
    p.line(stance, sound, line_color=SOUND_C, line_width=2.0, line_join="round")

    if bottom_labels:
        if left:
            p.extra_x_ranges = {"lbl": Range1d(x0 + 2.3, x1 + 2.3)}
            lab_ax = LinearAxis(x_range_name="lbl")
        else:
            lab_ax = LinearAxis()
        lab_ax.fixed_location = yticks[0]
        lab_ax.ticker = FixedTicker(ticks=x_tick_labels)
        lab_ax.axis_line_color = None
        lab_ax.major_tick_line_color = None
        lab_ax.minor_tick_line_color = None
        lab_ax.major_label_text_font = FONT
        lab_ax.major_label_text_font_size = "15px"
        lab_ax.major_label_text_color = "black"
        lab_ax.major_label_standoff = -10
        p.add_layout(lab_ax, "below")

    zax = LinearAxis(fixed_location=0, bounds=(0, 100), ticker=FixedTicker(ticks=x_tick_marks),
                     major_tick_in=0, major_tick_out=4, minor_tick_line_color=None,
                     axis_line_color="black", axis_line_width=1,
                     major_tick_line_color="black",
                     major_label_overrides={t: "" for t in x_tick_marks},
                     major_label_standoff=0)
    p.add_layout(zax, "below")

    yax = LinearAxis(fixed_location=0, bounds=(yticks[0], yticks[-1]),
                     ticker=FixedTicker(ticks=yticks), major_tick_in=0, major_tick_out=5,
                     minor_tick_line_color=None, axis_line_color="#3a3a3a",
                     axis_line_width=1.3, major_tick_line_color="#3a3a3a",
                     major_label_text_font=FONT, major_label_text_font_size="15px",
                     major_label_text_color="black", major_label_standoff=3)
    if not left:
        yax.major_label_overrides = {t: "" for t in yticks}
    p.add_layout(yax, "left")
    return p


# Row 1: walk forelimbs (figure height 272; y=10 at 39 px, y=-20 at 252 px)
w_fc = panel(walk_fc_sound, walk_fc_sound_sd, walk_fc_lame, walk_fc_lame_sd, yticks_fore,
             True, 272, 39, 20)
w_fi = panel(walk_fi_sound, walk_fi_sound_sd, walk_fi_lame, walk_fi_lame_sd, yticks_fore,
             False, 272, 39, 20)
# Row 2: walk hindlimbs
w_hc = panel(walk_hc_sound, walk_hc_sound_sd, walk_hc_lame, walk_hc_lame_sd, yticks_hind_walk,
             True, 266, 23, 30)
w_hi = panel(walk_hi_sound, walk_hi_sound_sd, walk_hi_lame, walk_hi_lame_sd, yticks_hind_walk,
             False, 266, 23, 30)
# Row 3: trot forelimbs
t_fc = panel(trot_fc_sound, trot_fc_sound_sd, trot_fc_lame, trot_fc_lame_sd, yticks_fore,
             True, 274, 44, 20)
t_fi = panel(trot_fi_sound, trot_fi_sound_sd, trot_fi_lame, trot_fi_lame_sd, yticks_fore,
             False, 274, 44, 20)
# Row 4: trot hindlimbs
t_hc = panel(trot_hc_sound, trot_hc_sound_sd, trot_hc_lame, trot_hc_lame_sd, yticks_hind_trot,
             True, 266, 29, 27, bottom_labels=True)
t_hi = panel(trot_hi_sound, trot_hi_sound_sd, trot_hi_lame, trot_hi_lame_sd, yticks_hind_trot,
             False, 266, 29, 27, bottom_labels=True)

# ---- texts ----
lbl(w_fc, "A) Walk", 0, 10, dy=26, size="18px", style="bold")
lbl(w_fc, "Fy (%BW)", 0, 10, dx=-38, dy=-28, size="17px", align="center", angle=pi / 2)
lbl(w_fc, "propulsion", 0, 10, dx=8)
lbl(w_fc, "braking", 0, -20, dx=8)
lbl(w_fc, "Fc", 100, 10, dx=-4, dy=-12, size="20px", align="right")
lbl(w_fc, "*", 69, -1.8, dy=-4, size="16px", align="center")

lbl(w_fi, "sound -", 53.2, 10, dy=30, size="16px", style="bold", align="right")
lbl(w_fi, "lame", 54.5, 10, dy=30, size="16px", style="bold", color="#9a9a9a")
lbl(w_fi, "Fi", 100, 10, dx=-2, dy=-12, size="20px", style="bold", align="right")

lbl(w_hc, "Hc", 100, 15, dx=-4, dy=-12, size="20px", align="right")
lbl(w_hi, "Hi", 100, 15, dx=-2, dy=-12, size="20px", align="right")
lbl(w_hi, "*", 36, -1.6, dy=-4, size="16px", align="center")

lbl(t_fc, "B) Trot", 0, 10, dy=25, size="18px", style="bold")
lbl(t_fc, "propulsion", 0, 10, dx=8)
lbl(t_fc, "braking", 0, -20, dx=8)
lbl(t_fc, "Fc", 100, 10, dx=-4, dy=-12, size="20px", align="right")
lbl(t_fc, "*", 68.6, -1.7, dy=-4, size="16px", align="center")

lbl(t_fi, "Fi", 100, 10, dx=-2, dy=-12, size="20px", style="bold", align="right")
t_fi.add_layout(Arrow(end=NormalHead(size=9, fill_color="black", line_color="black"),
                      x_start=31.1, y_start=-11.3, x_end=23.3, y_end=-7.7,
                      line_color="black", line_width=1.5))

lbl(t_hc, "Hc", 100, 15, dx=-4, dy=-9, size="20px", align="right")
lbl(t_hi, "Hi", 100, 15, dx=-2, dy=-9, size="20px", align="right")
lbl(t_hi, "*", 33.2, -1.4, dy=-4, size="16px", align="center")
lbl(t_hi, "Stance phase (%)", 100, -5, dx=7, dy=-15, size="16px", align="right")

layout = column(row(w_fc, w_fi), row(w_hc, w_hi), row(t_fc, t_fi), row(t_hc, t_hi))

open("out.html", "w").write(file_html(layout, INLINE))
